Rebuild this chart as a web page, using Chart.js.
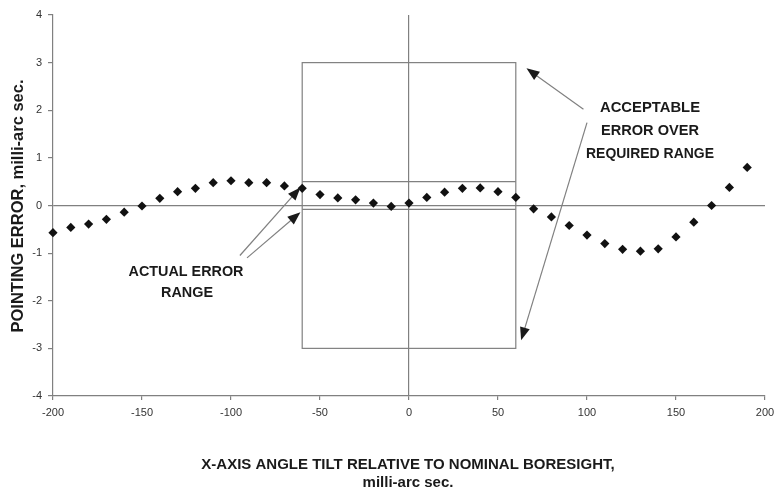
<!DOCTYPE html>
<html>
<head>
<meta charset="utf-8">
<script src="https://cdn.jsdelivr.net/npm/chart.js@4/dist/chart.umd.min.js"></script>
<style>
  body { margin: 0; background: #fff; }
  #wrap { width: 776px; height: 495px; position: relative; }
</style>
</head>
<body>
<div id="wrap"><canvas id="ScatterChart"></canvas></div>
<script>
// tilt angle, milli-arc sec
var tiltAngles = [-200,-190,-180,-170,-160,-150,-140,-130,-120,-110,
                  -100,-90,-80,-70,-60,-50,-40,-30,-20,-10,
                  0,10,20,30,40,50,60,70,80,90,
                  100,110,120,130,140,150,160,170,180,190];
// pointing error, milli-arc sec
var pointingErrors = [-0.57,-0.46,-0.39,-0.29,-0.14,-0.01,0.15,0.29,0.36,0.48,
                      0.52,0.48,0.48,0.41,0.36,0.23,0.16,0.12,0.05,-0.02,
                      0.05,0.17,0.28,0.36,0.37,0.29,0.17,-0.07,-0.24,-0.42,
                      -0.62,-0.80,-0.92,-0.96,-0.91,-0.66,-0.35,0.00,0.38,0.80];

var requiredRange = [-60, 60];
var acceptableError = [-3, 3];
var actualErrorRange = [-0.08, 0.5];

var xTitle = ['X-AXIS ANGLE TILT RELATIVE TO NOMINAL BORESIGHT,', 'milli-arc sec.'];
var yTitle = 'POINTING ERROR, milli-arc sec.';

var points = tiltAngles.map(function (x, i) { return { x: x, y: pointingErrors[i] }; });

var lineGrey = '#808080';

function arrow(c, x1, y1, x2, y2) {
    var a = Math.atan2(y2 - y1, x2 - x1);
    var len = 13, half = 5;
    c.strokeStyle = lineGrey;
    c.lineWidth = 1.2;
    c.beginPath();
    c.moveTo(x1, y1);
    c.lineTo(x2 - Math.cos(a) * len * 0.8, y2 - Math.sin(a) * len * 0.8);
    c.stroke();
    c.fillStyle = '#1a1a1a';
    c.beginPath();
    c.moveTo(x2, y2);
    c.lineTo(x2 - Math.cos(a) * len + Math.sin(a) * half, y2 - Math.sin(a) * len - Math.cos(a) * half);
    c.lineTo(x2 - Math.cos(a) * len - Math.sin(a) * half, y2 - Math.sin(a) * len + Math.cos(a) * half);
    c.closePath();
    c.fill();
}

var boxesPlugin = {
    id: 'boxes',
    beforeDatasetsDraw: function (chart) {
        var c = chart.ctx, xs = chart.scales.x, ys = chart.scales.y;
        var l = xs.getPixelForValue(requiredRange[0]), r = xs.getPixelForValue(requiredRange[1]);
        c.save();
        c.strokeStyle = lineGrey;
        c.lineWidth = 1.2;
        c.strokeRect(l, ys.getPixelForValue(acceptableError[1]), r - l,
            ys.getPixelForValue(acceptableError[0]) - ys.getPixelForValue(acceptableError[1]));
        actualErrorRange.forEach(function (v) {
            var y = ys.getPixelForValue(v);
            c.beginPath(); c.moveTo(l, y); c.lineTo(r, y); c.stroke();
        });
        c.restore();
    },
    afterDatasetsDraw: function (chart) {
        var c = chart.ctx, xs = chart.scales.x, ys = chart.scales.y;
        function px(v) { return xs.getPixelForValue(v); }
        function py(v) { return ys.getPixelForValue(v); }
        c.save();
        arrow(c, px(98), py(2.02), px(66), py(2.88));
        arrow(c, px(100), py(1.74), px(63), py(-2.83));
        arrow(c, px(-95), py(-1.05), px(-61), py(0.38));
        arrow(c, px(-91), py(-1.10), px(-61), py(-0.14));

        c.fillStyle = '#1a1a1a';
        c.textAlign = 'center';
        c.textBaseline = 'middle';
        c.font = 'bold 15px "Liberation Sans", Arial, sans-serif';
        c.fillText('ACCEPTABLE', 650, 108, 100);
        c.fillText('ERROR OVER', 650, 131, 98);
        c.fillText('REQUIRED RANGE', 650, 154, 128);
        c.fillText('ACTUAL ERROR', 186, 272, 115);
        c.fillText('RANGE', 187, 293, 52);

        c.font = 'bold 15px "Liberation Sans", Arial, sans-serif';
        c.fillText(xTitle[0], 408, 465, 418);
        c.fillText(xTitle[1], 408, 483);

        c.translate(18, 206);
        c.rotate(-Math.PI / 2);
        c.font = 'bold 16.5px "Liberation Sans", Arial, sans-serif';
        c.fillText(yTitle, 0, 0, 258);
        c.restore();
    }
};

function zeroOnly(ctx) {
    return ctx.tick && ctx.tick.value === 0 ? lineGrey : 'rgba(0,0,0,0)';
}

var ctx = document.getElementById('ScatterChart');

var chart = new Chart(ctx, {
    type: 'scatter',
    data: {
        datasets: [{
            label: 'pointing error',
            data: points,
            pointStyle: 'rectRot',
            pointRadius: 4.6,
            pointHoverRadius: 4.6,
            backgroundColor: '#111',
            borderColor: '#111',
            borderWidth: 0,
            clip: false
        }]
    },
    options: {
        responsive: true,
        maintainAspectRatio: false,
        animation: false,
        layout: { padding: { top: 15, right: 11, left: 0, bottom: 0 } },
        plugins: {
            legend: { display: false },
            tooltip: { enabled: false }
        },
        scales: {
            x: {
                type: 'linear',
                min: -200,
                max: 200,
                afterFit: function (s) {
                    s.height = 99;
                    s.paddingLeft = 0;
                    s.paddingRight = 0;
                },
                ticks: {
                    stepSize: 50,
                    padding: 6,
                    color: '#333',
                    font: { size: 11, family: '"Liberation Sans", Arial, sans-serif' }
                },
                grid: {
                    color: zeroOnly,
                    lineWidth: 1.2,
                    tickColor: lineGrey,
                    tickLength: 4
                },
                border: { display: true, color: lineGrey, width: 1.2 }
            },
            y: {
                min: -4,
                max: 4,
                afterFit: function (s) { s.width = 53; },
                ticks: {
                    stepSize: 1,
                    padding: 6,
                    color: '#333',
                    font: { size: 11, family: '"Liberation Sans", Arial, sans-serif' }
                },
                grid: {
                    color: zeroOnly,
                    lineWidth: 1.2,
                    tickColor: lineGrey,
                    tickLength: 5
                },
                border: { display: true, color: lineGrey, width: 1.2 }
            }
        }
    },
    plugins: [boxesPlugin]
});
</script>
</body>
</html>
